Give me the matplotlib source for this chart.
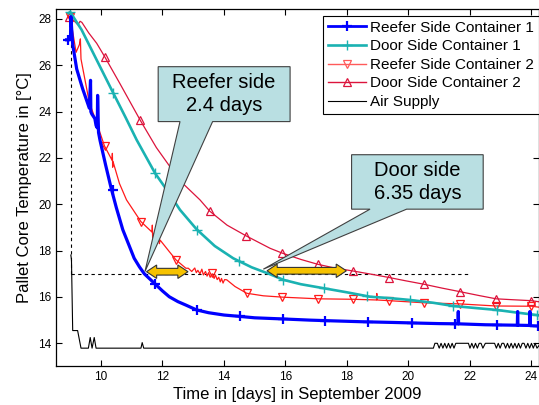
import numpy as np
import matplotlib
matplotlib.use("Agg")
import matplotlib.pyplot as plt
from matplotlib.lines import Line2D
from matplotlib.patches import Polygon

plt.rcParams["font.family"] = ["Liberation Sans", "DejaVu Sans"]

# Reefer side, container 1 (blue)
r1_t = [8.88, 8.97, 9.01, 9.02, 9.08, 9.21, 9.40, 9.62, 9.66, 9.67, 9.70, 9.80, 9.84,
        9.88, 9.89, 9.92, 9.97, 10.15, 10.33, 10.50, 10.71, 10.90, 11.08, 11.25, 11.41,
        11.76, 12.00, 12.22, 12.50, 12.76, 13.11, 13.50, 14.00, 14.52, 15.00, 15.93,
        16.80, 17.50, 18.50, 19.50, 20.37, 21.00, 21.61, 21.62, 21.63, 22.50, 23.54,
        23.55, 23.56, 23.94, 23.95, 23.96, 24.30]
r1_v = [27.10, 27.10, 27.30, 28.10, 26.90, 25.84, 25.00, 24.15, 25.35, 24.00, 23.90,
        23.70, 23.40, 23.30, 24.70, 23.10, 22.75, 21.70, 20.70, 19.85, 18.90, 18.27,
        17.67, 17.30, 17.00, 16.56, 16.26, 16.01, 15.80, 15.65, 15.44, 15.32, 15.22,
        15.16, 15.10, 15.05, 15.00, 14.97, 14.93, 14.90, 14.87, 14.85, 14.84, 15.37,
        14.84, 14.80, 14.78, 15.37, 14.78, 14.77, 15.37, 14.76, 14.74]
r1_mt = [8.93, 10.38, 11.76, 13.11, 14.52, 15.93, 17.30, 18.70, 20.10, 21.50, 22.87, 24.20]
r1_mv = [27.10, 20.62, 16.56, 15.44, 15.16, 15.05, 14.98, 14.92, 14.88, 14.84, 14.79, 14.75]

# Door side, container 1 (cyan)
d1_t = [8.94, 9.00, 9.37, 9.86, 10.40, 10.80, 11.16, 11.76, 12.14, 12.57, 13.11, 13.70,
        14.30, 14.90, 15.50, 15.93, 16.50, 17.23, 18.00, 18.75, 19.40, 20.05, 20.80,
        21.46, 22.20, 22.87, 23.50, 24.30]
d1_v = [28.25, 28.30, 27.53, 26.23, 24.80, 23.75, 22.78, 21.34, 20.62, 19.76, 18.92,
        18.20, 17.67, 17.28, 16.98, 16.74, 16.55, 16.38, 16.20, 16.01, 15.95, 15.87,
        15.75, 15.61, 15.52, 15.44, 15.33, 15.20]
d1_mt = [9.00, 10.40, 11.76, 13.12, 14.50, 15.93, 17.25, 18.65, 20.05, 21.46, 22.87, 24.17]
d1_mv = [28.30, 24.80, 21.34, 18.90, 17.55, 16.74, 16.38, 16.03, 15.87, 15.61, 15.44, 15.22]

# Reefer side, container 2 (red)
r2_t = [8.94, 9.00, 9.19, 9.30, 9.33, 9.35, 9.62, 9.89, 10.11, 10.36, 10.37, 10.38,
        10.39, 10.60, 10.83, 11.30, 11.66, 11.67, 11.68, 11.70, 11.88, 11.89, 11.90,
        11.92, 12.22, 12.44, 12.76, 12.84, 12.95, 13.05, 13.10, 13.15, 13.22, 13.28,
        13.33, 13.40, 13.45, 13.50, 13.55, 13.62, 13.68, 13.72, 13.78, 13.83, 13.88,
        13.92, 13.97, 14.02, 14.09, 14.36, 14.74, 15.28, 15.93, 17.07, 18.20, 18.96,
        18.97, 18.98, 19.37, 20.50, 21.67, 22.85, 24.00, 24.30]
r2_v = [28.10, 28.10, 26.56, 26.90, 27.14, 26.27, 24.40, 23.40, 22.53, 21.90, 22.20,
        21.60, 21.85, 20.90, 20.19, 19.25, 18.80, 19.10, 18.55, 18.75, 18.50, 18.90,
        18.30, 18.46, 17.96, 17.60, 17.24, 17.24, 17.10, 17.25, 17.05, 17.15, 17.00,
        17.20, 16.95, 17.10, 16.90, 17.05, 16.85, 17.00, 16.80, 16.95, 16.75, 16.85,
        16.65, 16.80, 16.60, 16.75, 16.74, 16.45, 16.16, 16.05, 15.99, 15.92, 15.90,
        15.87, 16.15, 15.87, 15.84, 15.75, 15.70, 15.61, 15.60, 15.55]
r2_mt = [9.00, 10.13, 11.30, 12.44, 13.60, 14.74, 15.90, 17.07, 18.20, 19.37, 20.50,
         21.67, 22.85, 24.00]
r2_mv = [28.10, 22.50, 19.25, 17.60, 17.05, 16.16, 15.99, 15.92, 15.90, 15.84, 15.75,
         15.70, 15.61, 15.60]

# Door side, container 2 (crimson)
d2_t = [8.95, 9.10, 9.25, 9.32, 9.38, 9.60, 9.86, 10.13, 10.62, 11.28, 11.80, 12.24,
        12.70, 13.22, 13.54, 14.10, 14.73, 15.50, 15.90, 16.50, 17.05, 17.60, 18.20,
        18.80, 19.37, 19.90, 20.50, 21.10, 21.67, 22.30, 22.85, 23.40, 24.00, 24.30]
d2_v = [28.10, 27.95, 27.75, 27.90, 27.85, 27.40, 26.95, 26.35, 25.20, 23.62, 22.45,
        21.63, 20.85, 20.19, 19.70, 19.10, 18.63, 18.10, 17.89, 17.62, 17.41, 17.25,
        17.12, 16.98, 16.84, 16.70, 16.55, 16.38, 16.23, 16.06, 15.92, 15.88, 15.84, 15.78]
d2_mt = [8.95, 10.13, 11.28, 12.41, 13.54, 14.73, 15.90, 17.05, 18.20, 19.37, 20.50,
         21.67, 22.85, 24.00]
d2_mv = [28.10, 26.35, 23.62, 21.30, 19.70, 18.63, 17.89, 17.41, 17.12, 16.84, 16.55,
         16.23, 15.92, 15.84]

# Air supply (black)
air_t = [9.02, 9.04, 9.08, 9.24, 9.35, 9.59, 9.65, 9.71, 9.78, 9.84, 11.30, 11.34,
         11.39, 20.81, 20.86, 20.94, 21.00, 21.06, 21.12, 21.18, 21.24, 21.30, 21.36,
         21.42, 21.48, 21.54, 21.60, 21.95, 22.00, 22.06, 22.12, 22.18, 22.24, 22.30,
         22.36, 22.42, 22.50, 22.80, 22.86, 22.92, 22.98, 23.04, 23.10, 23.16, 23.22,
         23.28, 23.34, 23.40, 23.46, 23.52, 23.58, 23.64, 23.70, 23.76, 23.82, 23.88,
         23.94, 24.00, 24.06, 24.12, 24.18, 24.30]
air_v = [17.81, 17.60, 14.55, 14.55, 13.79, 13.79, 14.25, 13.79, 14.25, 13.79, 13.79,
         14.03, 13.79, 13.79, 14.00, 14.00, 13.79, 14.00, 13.79, 14.00, 13.79, 14.00,
         13.79, 14.00, 13.79, 14.00, 14.00, 14.00, 13.79, 14.00, 13.79, 14.00, 13.79,
         14.00, 14.00, 13.79, 14.00, 14.00, 13.79, 14.00, 13.79, 14.00, 14.00, 13.79,
         14.00, 13.79, 14.00, 13.79, 14.00, 13.79, 14.00, 13.79, 14.00, 14.00, 13.79,
         14.00, 13.79, 14.00, 13.79, 14.00, 13.79, 14.00]

target_temp = 17.0
start_day = 9.02
guide_end = 21.95

callout_texts = ["Reefer side\n2.4 days", "Door side\n6.35 days"]
callout_boxes = [(11.86, 16.15, 23.57, 25.94), (18.15, 22.43, 19.79, 22.14)]
callout_tails = [(12.57, 13.63, 11.43, 17.10), (18.75, 19.94, 15.28, 17.20)]
arrow_spans = [(11.48, 12.83, 17.09), (15.40, 17.98, 17.13)]

fig = plt.figure(figsize=(5.39, 4.05), dpi=100)
ax = fig.add_axes([56 / 539, 39 / 405, 483 / 539, 357 / 405])

ax.plot([start_day, start_day], [target_temp, 28.0], ls=(0, (3, 3)), color="black", lw=0.8)
ax.plot([start_day, guide_end], [target_temp, target_temp], ls=(0, (3, 3)), color="black", lw=0.8)

ax.plot(air_t, air_v, color="black", lw=0.8)
ax.plot(d2_t, d2_v, color="#dc143c", lw=0.9)
ax.plot(d2_mt, d2_mv, ls="none", marker="^", ms=6, mfc="none", mec="#dc143c", mew=0.9)
ax.plot(r2_t, r2_v, color="#ff1a1a", lw=0.9)
ax.plot(r2_mt, r2_mv, ls="none", marker="v", ms=6, mfc="none", mec="#ff1a1a", mew=0.9)
ax.plot(d1_t, d1_v, color="#1ab2b2", lw=1.9)
ax.plot(d1_mt, d1_mv, ls="none", marker="+", ms=7, mec="#1ab2b2", mew=1.0)
ax.plot(r1_t, r1_v, color="#0000ff", lw=2.3)
ax.plot(r1_mt, r1_mv, ls="none", marker="+", ms=7, mec="#0000ff", mew=1.6)

# callouts
for text, (x0, x1, y0, y1), (tl, tr, px, py) in zip(callout_texts, callout_boxes, callout_tails):
    pts = [(x0, y1), (x1, y1), (x1, y0), (tr, y0), (px, py), (tl, y0), (x0, y0)]
    ax.add_patch(Polygon(pts, closed=True, facecolor="#b9dfe2", edgecolor="#404040",
                         lw=0.8, zorder=5))
    ax.text((x0 + x1) / 2, (y0 + y1) / 2, text, ha="center", va="center",
            fontsize=14.5, zorder=6, linespacing=1.25)

# double arrows
hl, hw, sw = 0.33, 0.29, 0.145
for x0, x1, yc in arrow_spans:
    pts = [(x0, yc), (x0 + hl, yc + hw), (x0 + hl, yc + sw), (x1 - hl, yc + sw),
           (x1 - hl, yc + hw), (x1, yc), (x1 - hl, yc - hw), (x1 - hl, yc - sw),
           (x0 + hl, yc - sw), (x0 + hl, yc - hw)]
    ax.add_patch(Polygon(pts, closed=True, facecolor="#f6c200", edgecolor="#333333",
                         lw=0.8, zorder=5))

ax.set_xlim(8.537, 24.245)
ax.set_ylim(13.02, 28.43)
ax.set_xticks(np.arange(10, 25, 2))
ax.set_yticks(np.arange(14, 29, 2))
ax.tick_params(direction="in", top=True, right=True, labelsize=8.5, length=4, width=0.8)
for s in ax.spines.values():
    s.set_linewidth(0.9)
ax.set_xlabel("Time in [days] in September 2009", fontsize=12, labelpad=3)
ax.set_ylabel("Pallet Core Temperature in [°C]", fontsize=12, labelpad=4)

handles = [
    Line2D([], [], color="#0000ff", lw=2.0, marker="+", ms=7, mew=1.6),
    Line2D([], [], color="#1ab2b2", lw=1.9, marker="+", ms=7, mew=1.0),
    Line2D([], [], color="#ff5a5a", lw=1.0, marker="v", ms=6, mfc="none", mew=0.9),
    Line2D([], [], color="#dc143c", lw=1.0, marker="^", ms=6, mfc="none", mew=0.9),
    Line2D([], [], color="black", lw=0.8),
]
labels = ["Reefer Side Container 1", "Door Side Container 1", "Reefer Side Container 2",
          "Door Side Container 2", "Air Supply"]
leg = ax.legend(handles, labels, loc="upper left", bbox_to_anchor=(323 / 539, 1 - 15.7 / 405),
                bbox_transform=fig.transFigure, fontsize=11, frameon=True, fancybox=False,
                edgecolor="black", framealpha=1, borderpad=0.33, labelspacing=0.3,
                handlelength=2.5, handletextpad=0.25, borderaxespad=0)
leg.get_frame().set_linewidth(0.8)
leg.set_zorder(10)

fig.savefig("out.png", dpi=100)
plt.close(fig)
